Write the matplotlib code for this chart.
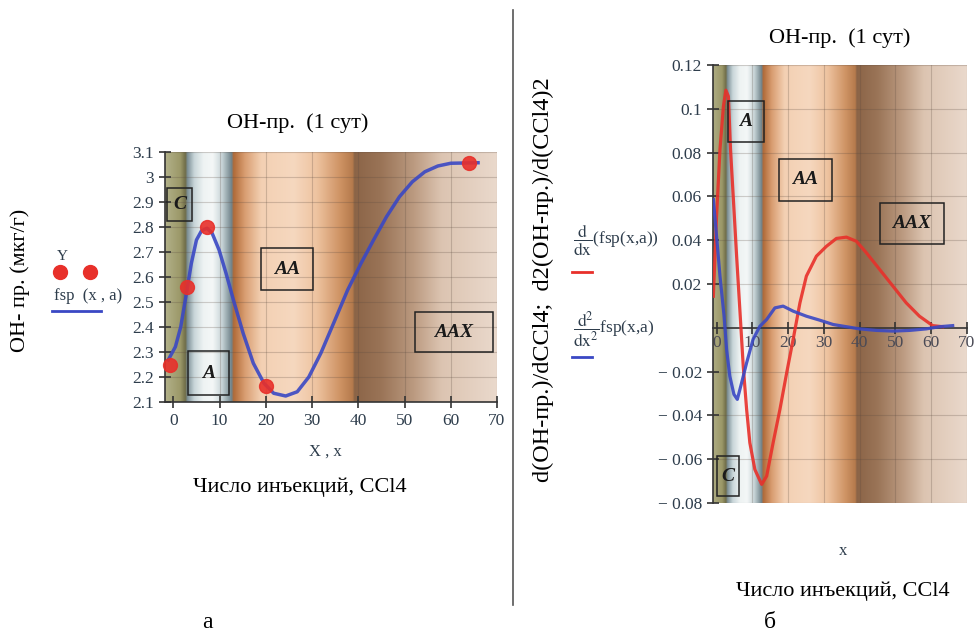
import numpy as np
import matplotlib.pyplot as plt
from matplotlib.lines import Line2D
from matplotlib.patches import Rectangle
from matplotlib.colors import to_rgb

plt.rcParams['font.family'] = ['Liberation Serif', 'DejaVu Serif']
plt.rcParams['mathtext.fontset'] = 'stix'

# --- data ---
pts_x = [-0.8, 3, 7.3, 20, 64]
pts_y = [2.25, 2.56, 2.80, 2.165, 3.055]

fsp_x = [-1.1, 0.45, 1.6, 2.7, 3.9, 5.0, 6.1, 7.3, 8.4, 9.9, 11.4, 13.2, 15.1, 17.3,
         19.6, 21.7, 24.3, 26.8, 29.3, 31.9, 34.8, 37.7, 40.6, 43.3, 46.1, 48.9,
         51.7, 54.4, 57.2, 60.0, 65.9]
fsp_y = [2.268, 2.321, 2.40, 2.52, 2.655, 2.748, 2.785, 2.795, 2.775, 2.708, 2.615,
         2.495, 2.375, 2.255, 2.175, 2.135, 2.124, 2.141, 2.20, 2.295, 2.421, 2.548,
         2.655, 2.748, 2.841, 2.921, 2.981, 3.021, 3.044, 3.055, 3.057]

d1_x = [-0.9, 0, 0.95, 1.9, 2.6, 3.3, 3.9, 4.7, 5.6, 6.5, 7.45, 8.4, 9.3, 10.7, 12.6,
        14.0, 15.8, 17.7, 19.6, 21.4, 23.3, 25.1, 27.9, 30.7, 33.5, 36.3, 39.1,
        41.9, 45.6, 49.3, 53.0, 56.7, 60.4, 63.2]
d1_y = [0.0144, 0.051, 0.0814, 0.101, 0.1085, 0.1057, 0.0814, 0.0586, 0.0327, 0.0084,
        -0.0175, -0.0373, -0.0525, -0.0647, -0.0715, -0.0677, -0.0525, -0.0373,
        -0.0205, -0.0053, 0.0114, 0.0236, 0.0327, 0.0372, 0.0408, 0.0414, 0.0395,
        0.0342, 0.0266, 0.019, 0.0114, 0.0053, 0.001, 0.0005]

d2_x = [-0.9, 0, 0.95, 2.1, 2.8, 3.7, 4.85, 5.8, 7.0, 8.4, 10.2, 12.1, 14.0, 16.3,
        18.6, 21.4, 25.1, 28.8, 32.6, 36.3, 40.0, 44.7, 49.3, 53.9, 58.6, 62.3, 66.0]
d2_y = [0.0586, 0.0418, 0.0236, 0.0053, -0.0099, -0.0221, -0.0304, -0.0327, -0.0251,
        -0.016, -0.0053, 0.0007, 0.0038, 0.0091, 0.0099, 0.0076, 0.0053, 0.0035,
        0.0015, 0.0005, -0.0005, -0.0012, -0.0015, -0.0012, -0.0005, 0.0005, 0.001]

left_yticks = [2.1, 2.2, 2.3, 2.4, 2.5, 2.6, 2.7, 2.8, 2.9, 3.0, 3.1]
left_ylabels = ['2.1', '2.2', '2.3', '2.4', '2.5', '2.6', '2.7', '2.8', '2.9', '3', '3.1']
right_yticks = [-0.08, -0.06, -0.04, -0.02, 0.02, 0.04, 0.06, 0.08, 0.1, 0.12]
right_ylabels = ['\u2212 0.08', '\u2212 0.06', '\u2212 0.04', '\u2212 0.02',
                 '0.02', '0.04', '0.06', '0.08', '0.1', '0.12']
xticks = [0, 10, 20, 30, 40, 50, 60, 70]

# background colour stops (x, colour)
stops = [(-2, '#b4b38c'), (1.5, '#9b9868'), (2.6, '#6f6c48'),
         (3.0, '#7c8f96'), (4.5, '#c9d6d9'), (6.5, '#eef3f3'), (8.5, '#f4f7f7'),
         (10.5, '#c8d5d8'), (12.6, '#6f8289'),
         (13.0, '#b06a38'), (15.5, '#d99e72'), (19, '#f3d0b3'), (26, '#f6d8bf'),
         (31, '#eec3a0'), (36, '#cf9465'), (38.8, '#b57a4c'),
         (39.2, '#8b6447'), (45, '#9a7457'), (52, '#bb9a80'), (58, '#dcc4b1'),
         (70, '#ead9cc')]

tick_col = '#2e3d4c'


def background(ax, x0, x1, y0, y1):
    xs = np.linspace(x0, x1, 700)
    sx = [s[0] for s in stops]
    cols = np.array([to_rgb(s[1]) for s in stops])
    img = np.stack([np.interp(xs, sx, cols[:, k]) for k in range(3)], axis=-1)
    ax.imshow(img[np.newaxis, :, :], extent=[x0, x1, y0, y1], aspect='auto',
              zorder=0, interpolation='bilinear')


def zone_box(ax, txt, x0, x1, y0, y1):
    ax.add_patch(Rectangle((x0, y0), x1 - x0, y1 - y0, fill=False,
                           edgecolor='#222222', lw=1.1, zorder=4))
    ax.text((x0 + x1) / 2, (y0 + y1) / 2, txt, ha='center', va='center',
            fontsize=14, fontweight='bold', style='italic', color='#1a1a1a', zorder=5)


fig = plt.figure(figsize=(9.79, 6.36), dpi=100)

# ---------- left chart ----------
ax1 = fig.add_axes([165 / 979, 1 - 402 / 636, 332 / 979, 250 / 636])
x0, x1 = -1.8, 70
background(ax1, x0, x1, 2.1, 3.1)
ax1.set_xlim(x0, x1)
ax1.set_ylim(2.1, 3.1)
for t in xticks[1:]:
    ax1.axvline(t, color='#5a4a40', alpha=0.25, lw=0.8, zorder=1)
for t in left_yticks[1:]:
    ax1.axhline(t, color='#5a4a40', alpha=0.25, lw=0.8, zorder=1)
ax1.plot(fsp_x, fsp_y, color='#3a48c4', lw=2.5, alpha=0.9, zorder=3)
ax1.plot(pts_x, pts_y, 'o', color='#e8302a', ms=10, alpha=0.9, zorder=3, clip_on=False)
ax1.set_xticks(xticks)
ax1.set_yticks(left_yticks)
ax1.set_yticklabels(left_ylabels)
ax1.tick_params(direction='inout', length=9, width=1.2, labelsize=12.5,
                labelcolor=tick_col, color='#333333')
for s in ['top', 'right']:
    ax1.spines[s].set_visible(False)
for s in ['left', 'bottom']:
    ax1.spines[s].set_linewidth(1.2)
    ax1.spines[s].set_color('#333333')

zone_box(ax1, 'C', -1.3, 4.1, 2.824, 2.956)
zone_box(ax1, 'A', 3.2, 12.1, 2.128, 2.304)
zone_box(ax1, 'AA', 18.9, 30.1, 2.548, 2.715)
zone_box(ax1, 'AAX', 52.3, 69.1, 2.30, 2.46)

fig.text(298 / 979, 1 - 123 / 636, 'ОН-пр.  (1 сут)', ha='center', va='center', fontsize=16)
fig.text(325 / 979, 1 - 452 / 636, 'X , x', ha='center', va='center', fontsize=12,
         color=tick_col)
fig.text(300 / 979, 1 - 487 / 636, 'Число инъекций, CCl4', ha='center', va='center',
         fontsize=16)
fig.text(207 / 979, 1 - 622 / 636, 'а', ha='center', va='center', fontsize=17)
fig.text(20 / 979, 1 - 280 / 636, 'ОН- пр. (мкг/г)', ha='center', va='center',
         rotation=90, fontsize=16)

# left legend
fig.text(62 / 979, 1 - 256 / 636, 'Y', ha='center', va='center', fontsize=11, color=tick_col)
for lx in [60, 90]:
    fig.add_artist(Line2D([lx / 979], [1 - 272 / 636], marker='o', ms=10,
                          color='#e8302a', ls='none'))
fig.text(54 / 979, 1 - 296 / 636, 'fsp  (x , a)', ha='left', va='center', fontsize=12,
         color=tick_col)
fig.add_artist(Line2D([52 / 979, 101 / 979], [1 - 311 / 636] * 2, color='#3a48c4', lw=2))

# separator
fig.add_artist(Line2D([513 / 979] * 2, [1 - 10 / 636, 1 - 605 / 636], color='#555555', lw=1.2))

# ---------- right chart ----------
ax2 = fig.add_axes([713 / 979, 1 - 503 / 636, 254 / 979, 438 / 636])
x0, x1 = -1, 70
background(ax2, x0, x1, -0.08, 0.12)
ax2.set_xlim(x0, x1)
ax2.set_ylim(-0.08, 0.12)
for t in xticks[1:]:
    ax2.axvline(t, color='#5a4a40', alpha=0.25, lw=0.8, zorder=1)
for t in right_yticks:
    ax2.axhline(t, color='#5a4a40', alpha=0.25, lw=0.8, zorder=1)
ax2.plot(d1_x, d1_y, color='#e8302a', lw=2.3, alpha=0.9, zorder=3)
ax2.plot(d2_x, d2_y, color='#3a48c4', lw=2.3, alpha=0.9, zorder=3)
ax2.set_xticks(xticks)
ax2.set_yticks(right_yticks)
ax2.set_yticklabels(right_ylabels)
ax2.spines['bottom'].set_position(('data', 0))
for s in ['top', 'right']:
    ax2.spines[s].set_visible(False)
for s in ['left', 'bottom']:
    ax2.spines[s].set_linewidth(1.2)
    ax2.spines[s].set_color('#333333')
ax2.tick_params(direction='inout', length=9, width=1.2, labelsize=12.5,
                labelcolor=tick_col, color='#333333')
ax2.tick_params(axis='x', pad=1, labelcolor='#4a4a55')

zone_box(ax2, 'A', 3.2, 13.2, 0.0848, 0.1035)
zone_box(ax2, 'AA', 17.4, 32.2, 0.0581, 0.0773)
zone_box(ax2, 'AAX', 45.6, 63.5, 0.0384, 0.057)
zone_box(ax2, 'C', 0.1, 6.2, -0.077, -0.0587)

fig.text(840 / 979, 1 - 38 / 636, 'ОН-пр.  (1 сут)', ha='center', va='center', fontsize=16)
fig.text(843 / 979, 1 - 551 / 636, 'x', ha='center', va='center', fontsize=12,
         color=tick_col)
fig.text(843 / 979, 1 - 591 / 636, 'Число инъекций, CCl4', ha='center', va='center',
         fontsize=16)
fig.text(770 / 979, 1 - 622 / 636, 'б', ha='center', va='center', fontsize=17)
fig.text(543 / 979, 1 - 280 / 636, 'd(ОН-пр.)/dCCl4;  d2(ОН-пр.)/d(CCl4)2',
         ha='center', va='center', rotation=90, fontsize=17.5)

# right legend
fig.text(573 / 979, 1 - 240 / 636, r'$\dfrac{\mathrm{d}}{\mathrm{dx}}$(fsp(x,a))',
         ha='left', va='center', fontsize=12.5, color=tick_col)
fig.add_artist(Line2D([572 / 979, 592 / 979], [1 - 272 / 636] * 2, color='#e8302a', lw=2))
fig.text(573 / 979, 1 - 330 / 636, r'$\dfrac{\mathrm{d}^2}{\mathrm{dx}^2}$fsp(x,a)',
         ha='left', va='center', fontsize=12.5, color=tick_col)
fig.add_artist(Line2D([572 / 979, 592 / 979], [1 - 357 / 636] * 2, color='#3a48c4', lw=2))

fig.savefig('out.png', dpi=100)
